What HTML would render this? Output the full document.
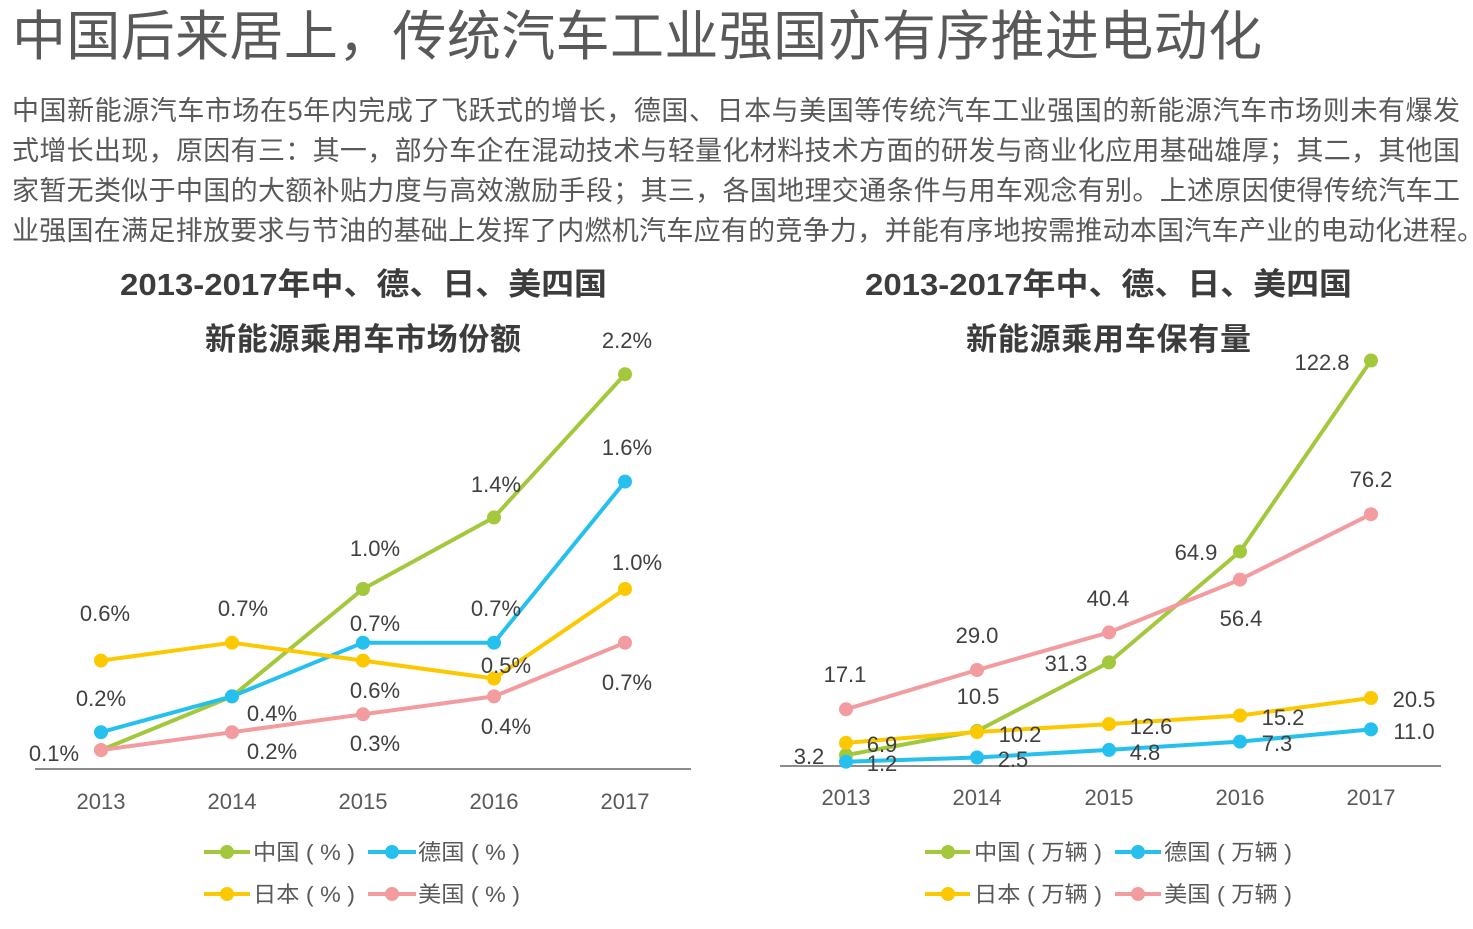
<!DOCTYPE html>
<html>
<head>
<meta charset="utf-8">
<style>
html,body{margin:0;padding:0;background:#fff;}
body{width:1473px;height:929px;overflow:hidden;}
svg{display:block;}
.t{font-family:"Liberation Sans","Noto Sans CJK SC",sans-serif;}
.lb{font-family:"Liberation Sans","Noto Sans CJK SC",sans-serif;font-size:22px;fill:#404040;text-anchor:middle;}
.ax{font-family:"Liberation Sans","Noto Sans CJK SC",sans-serif;font-size:22px;fill:#595959;text-anchor:middle;}
.lg{font-family:"Liberation Sans","Noto Sans CJK SC",sans-serif;font-size:22px;fill:#595959;}
</style>
</head>
<body>
<svg width="1473" height="929" viewBox="0 0 1473 929" xmlns="http://www.w3.org/2000/svg">
<rect width="1473" height="929" fill="#fff"/>

<!-- Main title -->
<text class="t" x="12" y="55" font-size="54" fill="#595959" textLength="1250" lengthAdjust="spacing">中国后来居上，传统汽车工业强国亦有序推进电动化</text>

<!-- Body text -->
<g class="t" font-size="27" fill="#595959">
<text x="12" y="120" textLength="1448" lengthAdjust="spacing">中国新能源汽车市场在5年内完成了飞跃式的增长，德国、日本与美国等传统汽车工业强国的新能源汽车市场则未有爆发</text>
<text x="12" y="160" textLength="1448" lengthAdjust="spacing">式增长出现，原因有三：其一，部分车企在混动技术与轻量化材料技术方面的研发与商业化应用基础雄厚；其二，其他国</text>
<text x="12" y="200" textLength="1448" lengthAdjust="spacing">家暂无类似于中国的大额补贴力度与高效激励手段；其三，各国地理交通条件与用车观念有别。上述原因使得传统汽车工</text>
<text x="12" y="240" textLength="1472" lengthAdjust="spacing">业强国在满足排放要求与节油的基础上发挥了内燃机汽车应有的竞争力，并能有序地按需推动本国汽车产业的电动化进程。</text>
</g>

<!-- Chart titles -->
<g class="t" font-size="31" font-weight="bold" fill="#3c3c3c">
<text x="120" y="295" textLength="487" lengthAdjust="spacingAndGlyphs">2013-2017年中、德、日、美四国</text>
<text x="205" y="350" textLength="316" lengthAdjust="spacing">新能源乘用车市场份额</text>
<text x="865" y="295" textLength="487" lengthAdjust="spacingAndGlyphs">2013-2017年中、德、日、美四国</text>
<text x="966" y="350" textLength="285" lengthAdjust="spacing">新能源乘用车保有量</text>
</g>

<!-- LEFT CHART -->
<line x1="35" y1="769" x2="691" y2="769" stroke="#8c8c8c" stroke-width="2"/>
<g fill="none" stroke-width="4" stroke-linejoin="round">
<polyline stroke="#a3c83c" points="101,750.1 232,696.4 363,589 494,517.4 625,374.2"/>
<polyline stroke="#26c0ee" points="101,732.2 232,696.4 363,642.7 494,642.7 625,481.6"/>
<polyline stroke="#fcc800" points="101,660.6 232,642.7 363,660.6 494,678.5 625,589"/>
<polyline stroke="#f29c9f" points="101,750.1 232,732.2 363,714.3 494,696.4 625,642.7"/>
</g>
<g fill="#a3c83c">
<circle cx="101" cy="750.1" r="7"/><circle cx="232" cy="696.4" r="7"/><circle cx="363" cy="589" r="7"/><circle cx="494" cy="517.4" r="7"/><circle cx="625" cy="374.2" r="7"/>
</g>
<g fill="#26c0ee">
<circle cx="101" cy="732.2" r="7"/><circle cx="232" cy="696.4" r="7"/><circle cx="363" cy="642.7" r="7"/><circle cx="494" cy="642.7" r="7"/><circle cx="625" cy="481.6" r="7"/>
</g>
<g fill="#fcc800">
<circle cx="101" cy="660.6" r="7"/><circle cx="232" cy="642.7" r="7"/><circle cx="363" cy="660.6" r="7"/><circle cx="494" cy="678.5" r="7"/><circle cx="625" cy="589" r="7"/>
</g>
<g fill="#f29c9f">
<circle cx="101" cy="750.1" r="7"/><circle cx="232" cy="732.2" r="7"/><circle cx="363" cy="714.3" r="7"/><circle cx="494" cy="696.4" r="7"/><circle cx="625" cy="642.7" r="7"/>
</g>
<g class="lb">
<text x="54" y="761">0.1%</text>
<text x="272" y="721">0.4%</text>
<text x="375" y="556">1.0%</text>
<text x="496" y="492">1.4%</text>
<text x="627" y="348">2.2%</text>
<text x="101" y="706">0.2%</text>
<text x="375" y="631">0.7%</text>
<text x="496" y="616">0.7%</text>
<text x="627" y="455">1.6%</text>
<text x="105" y="621">0.6%</text>
<text x="243" y="616">0.7%</text>
<text x="375" y="698">0.6%</text>
<text x="506" y="673">0.5%</text>
<text x="637" y="570">1.0%</text>
<text x="272" y="759">0.2%</text>
<text x="375" y="751">0.3%</text>
<text x="506" y="734">0.4%</text>
<text x="627" y="690">0.7%</text>
</g>
<g class="ax">
<text x="101" y="809">2013</text>
<text x="232" y="809">2014</text>
<text x="363" y="809">2015</text>
<text x="494" y="809">2016</text>
<text x="625" y="809">2017</text>
</g>
<!-- left legend -->
<g stroke-width="4">
<line x1="204" y1="852" x2="250" y2="852" stroke="#a3c83c"/>
<line x1="368" y1="852" x2="416" y2="852" stroke="#26c0ee"/>
<line x1="204" y1="894" x2="250" y2="894" stroke="#fcc800"/>
<line x1="368" y1="894" x2="416" y2="894" stroke="#f29c9f"/>
</g>
<circle cx="227" cy="852" r="7" fill="#a3c83c"/>
<circle cx="392" cy="852" r="7" fill="#26c0ee"/>
<circle cx="227" cy="894" r="7" fill="#fcc800"/>
<circle cx="392" cy="894" r="7" fill="#f29c9f"/>
<g class="lg">
<text x="253" y="860" textLength="102" lengthAdjust="spacingAndGlyphs">中国 ( % )</text>
<text x="418" y="860" textLength="102" lengthAdjust="spacingAndGlyphs">德国 ( % )</text>
<text x="253" y="902" textLength="102" lengthAdjust="spacingAndGlyphs">日本 ( % )</text>
<text x="418" y="902" textLength="102" lengthAdjust="spacingAndGlyphs">美国 ( % )</text>
</g>

<!-- RIGHT CHART -->
<line x1="780" y1="766" x2="1441" y2="766" stroke="#8c8c8c" stroke-width="2"/>
<g fill="none" stroke-width="4" stroke-linejoin="round">
<polyline stroke="#a3c83c" points="846,755.1 977,731.05 1109,662.4 1240,551.5 1371,360.5"/>
<polyline stroke="#26c0ee" points="846,761.7 977,757.5 1109,749.9 1240,741.6 1371,729.4"/>
<polyline stroke="#fcc800" points="846,742.9 977,732 1109,724.1 1240,715.5 1371,698"/>
<polyline stroke="#f29c9f" points="846,709.3 977,670 1109,632.4 1240,579.6 1371,514.2"/>
</g>
<g fill="#a3c83c">
<circle cx="846" cy="755.1" r="7"/><circle cx="977" cy="731.05" r="7"/><circle cx="1109" cy="662.4" r="7"/><circle cx="1240" cy="551.5" r="7"/><circle cx="1371" cy="360.5" r="7"/>
</g>
<g fill="#26c0ee">
<circle cx="846" cy="761.7" r="7"/><circle cx="977" cy="757.5" r="7"/><circle cx="1109" cy="749.9" r="7"/><circle cx="1240" cy="741.6" r="7"/><circle cx="1371" cy="729.4" r="7"/>
</g>
<g fill="#fcc800">
<circle cx="846" cy="742.9" r="7"/><circle cx="977" cy="732" r="7"/><circle cx="1109" cy="724.1" r="7"/><circle cx="1240" cy="715.5" r="7"/><circle cx="1371" cy="698" r="7"/>
</g>
<g fill="#f29c9f">
<circle cx="846" cy="709.3" r="7"/><circle cx="977" cy="670" r="7"/><circle cx="1109" cy="632.4" r="7"/><circle cx="1240" cy="579.6" r="7"/><circle cx="1371" cy="514.2" r="7"/>
</g>
<g class="lb">
<text x="809" y="764">3.2</text>
<text x="978" y="704">10.5</text>
<text x="1066" y="671">31.3</text>
<text x="1196" y="560">64.9</text>
<text x="1322" y="370">122.8</text>
<text x="882" y="771">1.2</text>
<text x="1013" y="767">2.5</text>
<text x="1145" y="760">4.8</text>
<text x="1277" y="751">7.3</text>
<text x="1414" y="739">11.0</text>
<text x="882" y="752">6.9</text>
<text x="1020" y="742">10.2</text>
<text x="1151" y="734">12.6</text>
<text x="1283" y="725">15.2</text>
<text x="1414" y="707">20.5</text>
<text x="845" y="682">17.1</text>
<text x="977" y="643">29.0</text>
<text x="1108" y="606">40.4</text>
<text x="1241" y="626">56.4</text>
<text x="1371" y="487">76.2</text>
</g>
<g class="ax">
<text x="846" y="805">2013</text>
<text x="977" y="805">2014</text>
<text x="1109" y="805">2015</text>
<text x="1240" y="805">2016</text>
<text x="1371" y="805">2017</text>
</g>
<!-- right legend -->
<g stroke-width="4">
<line x1="925" y1="852" x2="970" y2="852" stroke="#a3c83c"/>
<line x1="1115" y1="852" x2="1161" y2="852" stroke="#26c0ee"/>
<line x1="925" y1="894" x2="970" y2="894" stroke="#fcc800"/>
<line x1="1115" y1="894" x2="1161" y2="894" stroke="#f29c9f"/>
</g>
<circle cx="948" cy="852" r="7" fill="#a3c83c"/>
<circle cx="1138" cy="852" r="7" fill="#26c0ee"/>
<circle cx="948" cy="894" r="7" fill="#fcc800"/>
<circle cx="1138" cy="894" r="7" fill="#f29c9f"/>
<g class="lg">
<text x="974" y="860" textLength="128" lengthAdjust="spacingAndGlyphs">中国 ( 万辆 )</text>
<text x="1164" y="860" textLength="128" lengthAdjust="spacingAndGlyphs">德国 ( 万辆 )</text>
<text x="974" y="902" textLength="128" lengthAdjust="spacingAndGlyphs">日本 ( 万辆 )</text>
<text x="1164" y="902" textLength="128" lengthAdjust="spacingAndGlyphs">美国 ( 万辆 )</text>
</g>
</svg>
</body>
</html>
